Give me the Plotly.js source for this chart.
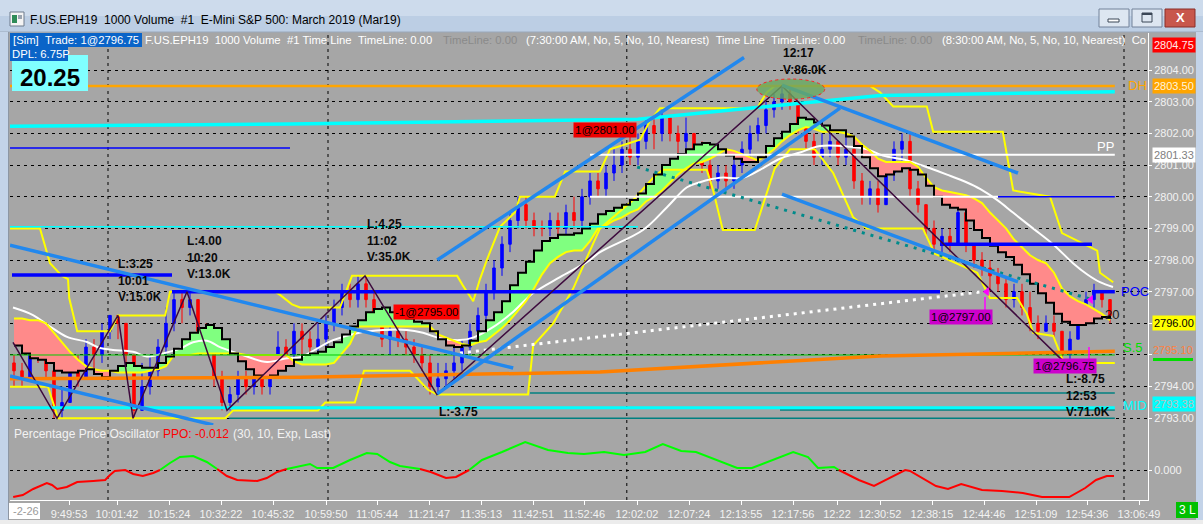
<!DOCTYPE html>
<html>
<head>
<meta charset="utf-8">
<script src="https://cdn.plot.ly/plotly-3.0.1.min.js"></script>
<style>
html,body{margin:0;padding:0;background:#a6a6a6;overflow:hidden;}
#chart{width:1203px;height:524px;}
</style>
</head>
<body>
<div id="chart"></div>
<script>
// ================= DATA =================
// 1000-volume bars, index 0..137
const firstOpen = 2794.75;
const closes = [
2794.5,2794.25,2795.25,2795.0,2794.5,2793.25,2793.5,2794.5,2794.25,2795.25,
2795.0,2795.75,2796.25,2796.0,2795.0,2793.25,2794.0,2794.5,2795.25,2796.0,
2796.75,2796.5,2796.75,2795.75,2795.5,2794.25,2793.5,2793.75,2794.25,2794.0,
2794.25,2794.0,2794.75,2795.25,2795.0,2795.75,2795.5,2795.25,2795.5,2796.0,
2796.5,2797.0,2796.75,2797.25,2796.75,2796.25,2795.5,2795.75,2795.5,2795.25,
2795.0,2794.75,2794.0,2794.25,2794.5,2794.75,2795.25,2795.75,2796.25,2797.0,
2797.75,2798.5,2799.25,2799.75,2799.25,2799.0,2799.0,2799.25,2799.0,2799.5,
2799.25,2800.0,2800.5,2800.25,2800.75,2801.0,2801.5,2801.25,2801.75,2802.25,
2802.0,2802.5,2802.0,2801.75,2802.0,2801.5,2801.0,2800.5,2800.75,2800.5,
2801.0,2801.5,2802.0,2802.25,2802.75,2803.0,2803.25,2803.0,2802.25,2801.75,
2801.25,2801.5,2801.75,2801.25,2801.5,2800.5,2800.0,2800.25,2799.75,2800.75,
2801.5,2801.75,2800.25,2799.75,2799.0,2798.5,2798.75,2798.5,2799.5,2798.5,
2798.0,2797.75,2797.5,2797.25,2796.75,2797.0,2796.5,2796.0,2795.75,2796.0,
2795.75,2795.0,2795.5,2796.25,2796.75,2797.0,2796.75,2796.25];
const highs = [
2795.0,2794.75,2795.5,2795.5,2795.0,2794.5,2794.0,2795.0,2795.0,2795.5,
2795.5,2796.0,2796.25,2796.25,2796.0,2795.0,2794.75,2795.0,2795.5,2796.5,
2797.0,2797.0,2797.0,2796.75,2796.0,2795.5,2794.5,2794.0,2794.5,2794.5,
2794.75,2794.5,2795.0,2795.75,2795.5,2796.0,2796.0,2795.75,2796.0,2796.25,
2796.75,2797.25,2797.25,2797.5,2797.5,2797.0,2796.25,2796.0,2796.0,2795.75,
2795.5,2795.25,2795.0,2794.75,2794.75,2795.25,2795.5,2796.0,2796.5,2797.25,
2798.0,2798.75,2799.5,2800.0,2800.0,2799.5,2799.25,2799.5,2799.5,2799.75,
2800.0,2800.25,2800.75,2800.75,2801.0,2801.5,2801.75,2802.0,2802.0,2802.5,
2802.5,2802.75,2802.5,2802.25,2802.5,2802.0,2801.75,2801.25,2801.0,2801.0,
2801.25,2801.75,2802.25,2802.5,2803.0,2803.25,2803.5,2803.5,2803.0,2802.25,
2802.0,2802.0,2802.0,2801.75,2802.0,2801.5,2800.75,2800.5,2800.5,2801.0,
2801.75,2802.0,2802.0,2800.5,2799.75,2799.25,2799.0,2799.0,2799.75,2799.5,
2798.5,2798.25,2798.0,2797.75,2797.5,2797.25,2797.25,2797.0,2796.25,2796.25,
2796.25,2795.75,2795.75,2796.5,2797.0,2797.25,2797.0,2796.75];
const lows = [
2794.0,2794.0,2794.25,2794.75,2794.25,2793.0,2793.0,2793.5,2794.0,2794.25,
2794.5,2794.75,2795.5,2795.5,2794.75,2793.0,2793.25,2793.75,2794.25,2795.0,
2795.75,2796.0,2796.25,2795.5,2795.0,2794.0,2793.25,2793.25,2793.5,2793.75,
2793.75,2793.75,2793.75,2794.5,2794.5,2794.75,2795.0,2794.75,2795.0,2795.25,
2795.75,2796.25,2796.5,2796.5,2796.5,2796.0,2795.25,2795.0,2795.25,2795.0,
2794.75,2794.5,2793.75,2793.75,2794.0,2794.25,2794.5,2795.0,2795.5,2796.0,
2796.75,2797.5,2798.25,2799.0,2799.0,2798.75,2798.75,2798.75,2798.75,2798.75,
2799.0,2799.0,2799.75,2800.0,2800.0,2800.5,2800.75,2801.0,2801.0,2801.5,
2801.5,2801.75,2801.75,2801.25,2801.5,2801.25,2800.75,2800.25,2800.25,2800.25,
2800.25,2800.75,2801.25,2801.75,2802.0,2802.5,2802.75,2802.75,2802.0,2801.5,
2801.0,2801.0,2801.25,2801.0,2801.0,2800.25,2799.75,2799.75,2799.5,2799.75,
2800.5,2801.0,2800.0,2799.5,2798.75,2798.25,2798.25,2798.25,2798.5,2798.25,
2797.75,2797.5,2797.0,2797.0,2796.5,2796.5,2796.25,2795.75,2795.5,2795.75,
2795.5,2794.75,2794.75,2795.5,2796.0,2796.5,2796.5,2796.0];

// black stepped average (per bar)
const fastMA = [
2795.3,2795.05,2794.9,2794.85,2794.75,2794.5,2794.45,2794.45,2794.5,2794.55,
2794.4,2794.3,2794.5,2794.65,2794.75,2794.65,2794.6,2794.6,2794.75,2794.95,
2795.2,2795.5,2795.7,2795.85,2795.95,2795.85,2795.5,2795.05,2794.8,2794.55,
2794.35,2794.3,2794.35,2794.5,2794.65,2794.85,2795.0,2795.05,2795.1,2795.25,
2795.4,2795.65,2795.9,2796.1,2796.35,2796.45,2796.5,2796.35,2796.25,2796.15,
2796.05,2796.0,2795.75,2795.5,2795.3,2795.25,2795.3,2795.45,2795.75,2796.1,
2796.35,2796.7,2797.2,2797.6,2797.95,2798.3,2798.6,2798.7,2798.8,2798.8,
2798.85,2799.0,2799.15,2799.45,2799.55,2799.65,2799.75,2799.9,2800.1,2800.4,
2800.7,2801.0,2801.2,2801.35,2801.5,2801.65,2801.7,2801.65,2801.5,2801.3,
2801.2,2801.1,2801.1,2801.25,2801.6,2801.85,2802.05,2802.3,2802.5,2802.45,
2802.35,2802.25,2802.1,2802.1,2801.9,2801.6,2801.25,2800.9,2800.65,2800.7,
2800.8,2800.9,2800.85,2800.7,2800.35,2800.0,2799.75,2799.65,2799.6,2799.25,
2798.95,2798.7,2798.45,2798.25,2798.1,2797.85,2797.55,2797.25,2796.95,2796.65,
2796.3,2796.05,2795.95,2795.95,2796.0,2796.15,2796.2,2796.25];
// inner yellow line bounding the green / pink cloud (per bar)
const slowBand = [
2796.15,2796.15,2796.1,2796.1,2796.0,2795.7,2795.4,2795.1,2794.85,2794.65,
2794.55,2794.5,2794.5,2794.45,2794.45,2794.45,2794.45,2794.5,2794.55,2794.65,
2795.0,2795.0,2795.0,2795.05,2795.05,2795.05,2795.05,2795.05,2795.05,2795.0,
2795.0,2795.0,2795.0,2795.0,2795.0,2794.8,2794.7,2794.7,2794.7,2794.7,
2794.75,2795.05,2795.35,2795.9,2795.9,2795.9,2795.9,2795.9,2795.9,2795.9,
2795.9,2795.9,2795.9,2795.65,2795.55,2795.45,2795.35,2795.3,2795.4,2795.45,
2795.65,2795.85,2796.1,2796.4,2796.7,2797.1,2797.55,2797.9,2798.1,2798.25,
2798.3,2798.3,2798.6,2799.0,2799.1,2799.25,2799.35,2799.5,2799.6,2799.85,
2800.0,2800.2,2800.45,2800.7,2800.9,2801.05,2801.1,2801.2,2801.35,2801.5,
2801.45,2801.35,2801.25,2801.15,2801.3,2801.5,2801.75,2801.95,2802.1,2802.2,
2802.15,2802.05,2802.05,2802.05,2802.0,2801.9,2801.65,2801.45,2801.2,2801.1,
2801.1,2801.1,2801.1,2800.95,2800.6,2800.3,2800.2,2800.15,2800.1,2800.05,
2799.95,2799.8,2799.5,2799.25,2799.0,2798.65,2798.4,2798.15,2798.0,2797.9,
2797.6,2797.1,2796.85,2796.7,2796.6,2796.45,2796.3,2796.1];

// white smooth average
const whiteX = [-0.125,2.375,4.5,6.625,9.125,10.75,12.375,14.875,16.625,18.625,20.75,22.375,24.125,25.75,27.375,29.125,31.625,34.125,35.75,39.875,42.875,46.125,49.125,51.125,53.25,55.75,57.375,59.875,62.375,64.875,68.25,71.625,73.25,78.625,81.625,84.125,85.75,88.25,91.125,93.25,95.75,98.25,100.75,104.5,106.625,108.625,111.625,114.5,116.625,119.125,120.75,122.875,124.875,127.375,129.875,132.375,134.125,135.75,137.375];
const whiteY = [2796.5,2796.26,2795.9,2795.57,2795.41,2795.22,2795.16,2795.1,2794.95,2795.05,2795.2,2795.4,2795.45,2795.25,2795.1,2794.95,2794.78,2794.9,2794.93,2795.47,2795.69,2795.79,2795.79,2795.7,2795.53,2795.47,2795.55,2795.88,2796.36,2796.95,2797.46,2797.94,2798.25,2798.95,2799.67,2800.3,2800.46,2800.6,2800.6,2800.85,2801.2,2801.4,2801.6,2801.58,2801.5,2801.3,2801.15,2800.9,2800.7,2800.45,2800.25,2799.9,2799.5,2799.0,2798.5,2797.9,2797.55,2797.3,2797.15];

// outer yellow price channel
const upperX = [-0.5,3.25,4.5,6,6.75,6.9,7.9,12,13,18.9,19.5,32.6,33.25,34.75,35.75,40.75,42.25,55.4,56.1,57.4,58.25,59.1,60.75,62.6,63.25,67.6,68.9,73.25,74.5,78.25,79.5,80.75,92.9,94.1,95.1,107,108.25,109.9,114.1,114.9,123.6,124.1,124.9,129.5,131,135.4,135.75,137.4];
const upperY = [2799.0,2799.0,2797.9,2797.5,2797.4,2796.8,2795.75,2795.75,2796.25,2796.25,2797.0,2797.0,2796.9,2796.6,2796.5,2796.5,2797.5,2797.5,2797.2,2796.7,2797.4,2798.0,2799.05,2799.5,2800.0,2800.0,2800.8,2800.8,2801.5,2801.8,2802.4,2802.8,2802.8,2803.3,2803.5,2803.5,2803.3,2802.85,2802.85,2802.05,2802.05,2801.3,2800.2,2800.0,2798.85,2798.3,2797.6,2797.3];
const lowerX = [-0.5,4.25,5.5,26.4,27.4,38,38.9,42.6,43.75,49.5,51.75,52.9,64.25,64.9,67.4,69.9,72,73.25,77.4,79.9,81.1,86.6,87.4,88.6,92.6,93.9,95.1,97,100.1,102.4,104.9,106.6,113.6,115.1,120.4,122,125.4,126.6,127.4,129.9,131,131.6,137.6];
const lowerY = [2794.0,2794.0,2793.0,2793.0,2793.25,2793.25,2793.5,2793.5,2794.5,2794.5,2793.9,2793.75,2793.75,2795.3,2796.0,2797.1,2798.3,2799.0,2799.9,2800.6,2800.85,2800.85,2800.2,2798.95,2798.95,2800.0,2800.9,2801.5,2801.5,2800.75,2799.35,2799.0,2799.0,2798.2,2797.6,2796.8,2796.8,2796.3,2795.7,2795.6,2794.9,2794.75,2794.75];

// Percentage Price Oscillator
const ppoX = [-0.1,1.1,2.4,4.1,4.75,5.4,6.6,7.9,9.9,11.4,12,12.6,13.9,14.9,16.1,17.4,18.25,19.5,20.75,22.4,24.1,25.4,26.6,27.9,30.4,31.6,32.9,34.1,35.75,37,37.9,39.9,42,44.1,45.4,47,48.25,50.75,52.1,54,55.25,56.9,58.5,61,63.9,66.75,69.25,71.25,73.75,76.25,78.9,81.1,83.4,85.25,87.75,90.4,92.25,94.75,97.4,99.25,100.5,102.5,103.1,105.6,107.5,109.5,111.4,112,115.25,116.75,118.4,121,123.5,126.1,128.5,131.9,133.9,135.25,136.6,137.5];
const ppoV = [-0.054,-0.050,-0.038,-0.026,-0.030,-0.038,-0.034,-0.024,-0.022,-0.020,-0.010,-0.002,0.000,-0.008,-0.012,-0.006,0.000,0.014,0.026,0.028,0.016,0.002,-0.012,-0.020,-0.022,-0.016,-0.004,0.002,0.008,0.012,0.004,0.004,0.020,0.034,0.032,0.016,0.008,0.002,-0.004,-0.016,-0.014,0.000,0.020,0.036,0.056,0.040,0.034,0.032,0.036,0.030,0.036,0.052,0.038,0.036,0.020,0.004,0.004,0.020,0.036,0.026,0.004,0.006,0.000,-0.020,-0.032,-0.016,0.000,-0.002,-0.032,-0.038,-0.028,-0.040,-0.042,-0.046,-0.054,-0.054,-0.036,-0.020,-0.012,-0.012];

// time axis
const tickPos = [6.875,12.875,19.375,25.875,32.375,39,45.375,51.875,58.375,64.875,71.25,77.875,84.375,90.875,97.375,102.875,108.25,114.75,121.25,127.75,134.125,140.625];
const tickText = ['9:49:53','10:01:42','10:15:24','10:32:22','10:45:32','10:59:50','11:05:44','11:21:47','11:35:13','11:42:51','11:52:46','12:02:02','12:07:24','12:13:55','12:17:56','12:22','12:30:52','12:38:15','12:44:46','12:51:09','12:54:36','13:06:49'];
const hourMarks = [11.75,39.25,76.6,138.75];           // 10:00, 11:00, 12:00, 13:00
const priceTicks = [2793,2794,2795,2796,2797,2798,2799,2800,2801,2802,2803,2804];
const hiddenTicks = [2795];                              // covered by the 2795.10 marker

// swing zig-zag
const zigX = [-0.125,5.375,13,14.875,21.625,26.625,43.875,52.875,96,131.375];
const zigY = [2795.4,2793.0,2796.25,2793.0,2797.0,2793.25,2797.5,2793.75,2803.5,2794.75];

// drawn trend lines (bar, price) -> (bar, price)
const trendX0 = [-0.5,-0.5,52.9,52.9,96,96];
const trendY0 = [2798.47,2794.34,2793.77,2798.0,2803.53,2800.08];
const trendX1 = [62.4,24.9,103.25,91.25,125.5,125.5];
const trendY1 = [2794.59,2792.79,2802.8,2804.4,2800.75,2797.31];

// horizontal levels
const levelName  = ['DH','blueThin','PP','white2800','blue2800','cyanThin','blueHi','POC','POC2','blue2798','green','teal1','teal2','teal3','MID'];
const levelPrice = [2803.5,2801.54,2801.33,2800.0,2800.0,2799.05,2797.53,2797.0,2797.0,2798.5,2795.0,2793.8,2793.26,2793.0,2793.33];
const levelFrom  = [-0.5,-0.5,72,72,123,-0.5,-0.25,19.75,134.75,115.75,-0.5,64.5,95.75,26.9,-0.5];
const levelTo    = [137.6,34.5,137.6,123,137.6,78,19.75,115.75,137.6,134.75,137.6,137.6,137.6,137.6,137.6];

// sloped bands
const cyanX = [-0.5,34.5,78,108.25,137.6];
const cyanY = [2802.23,2802.3,2802.45,2803.2,2803.32];
const orangeX = [-0.5,35.75,73.25,108.25,137.6];
const orangeY = [2794.25,2794.3,2794.46,2794.97,2795.12];

// dotted lines
const whiteDotX = [55.75,121.1], whiteDotY = [2795.06,2797.0];
const tealDotX = [77.9,134.9],  tealDotY = [2800.94,2796.74];

// trade markers
const tradeTriX = [121.6,134.6], tradeTriY = [2797.0,2796.75];
const peakBar = 97.1, peakPrice = 2803.4;

// ================= BUILD =================
const F = '"Liberation Sans", Arial, sans-serif';
const W=1203,H=524,ML=10,MR=55,MT=33,MB=24;
const PW=W-ML-MR, PH=H-MT-MB;
const px = x => (x-ML)/PW, py = y => (H-MB-y)/PH;
const paneSplit = (H-MB-425)/PH;

const idx = closes.map((_,i)=>i);
const opens = closes.map((c,i)=> i ? closes[i-1] : firstOpen);
const hi = highs.map((h,i)=>Math.max(h,opens[i],closes[i]));
const lo = lows.map((l,i)=>Math.min(l,opens[i],closes[i]));

const traces = [];
// cloud fills
(function(){
  const n=fastMA.length;
  const sg=k=> fastMA[k]>=slowBand[k]?1:-1;
  let i=0;
  while(i<n){
    const s=sg(i); let j=i;
    while(j+1<n && sg(j+1)===s) j++;
    const e=Math.min(j+1,n-1);
    const xs=[],ys=[];
    for(let k=i;k<=e;k++){ xs.push(k); ys.push(fastMA[k]); if(k<e){ xs.push(k+1); ys.push(fastMA[k]); } }
    for(let k=e;k>=i;k--){ xs.push(k); ys.push(slowBand[k]); }
    if(e>i) traces.push({type:'scatter',mode:'lines',x:xs,y:ys,fill:'toself',fillcolor:s>0?'#80ff80':'#ff8a8a',line:{width:0},hoverinfo:'skip'});
    i=j+1;
  }
})();
// outer channel
traces.push({type:'scatter',mode:'lines',x:upperX,y:upperY,line:{color:'#ffff00',width:2}});
traces.push({type:'scatter',mode:'lines',x:lowerX,y:lowerY,line:{color:'#ffff00',width:2}});
// candles
traces.push({type:'candlestick',x:idx,open:opens,high:hi,low:lo,close:closes,
  increasing:{line:{color:'#0000ff',width:1},fillcolor:'#0000ff'},
  decreasing:{line:{color:'#ff0000',width:1},fillcolor:'#ff0000'},
  whiskerwidth:0,hoverinfo:'skip'});
// averages
traces.push({type:'scatter',mode:'lines',x:whiteX,y:whiteY,line:{color:'#ffffff',width:2,shape:'spline'}});
traces.push({type:'scatter',mode:'lines',x:idx,y:slowBand,line:{color:'#ffff00',width:2}});
traces.push({type:'scatter',mode:'lines',x:idx,y:fastMA,line:{color:'#000000',width:2,shape:'hv'}});
// levels
const levelStyle = {
  DH:['#ffa500',2.5], blueThin:['#0000ff',1.5], PP:['#ffffff',2], white2800:['#ffffff',2], blue2800:['#0000ff',1.5],
  cyanThin:['#00ffff',1.5], blueHi:['#0000ff',3.5], POC:['#0000ff',3.5], POC2:['#0000ff',3.5], blue2798:['#0000ff',3.5],
  green:['#00cc00',1], teal1:['#008080',1.5], teal2:['#008080',1.5], teal3:['#008080',1.5], MID:['#00ffff',3]
};
levelName.forEach((nm,k)=>{
  traces.push({type:'scatter',mode:'lines',x:[levelFrom[k],levelTo[k]],y:[levelPrice[k],levelPrice[k]],
    line:{color:levelStyle[nm][0],width:levelStyle[nm][1]}});
});
traces.push({type:'scatter',mode:'lines',x:cyanX,y:cyanY,line:{color:'#00ffff',width:3.5}});
traces.push({type:'scatter',mode:'lines',x:orangeX,y:orangeY,line:{color:'#ff8000',width:3.5}});
// dotted
traces.push({type:'scatter',mode:'lines',x:whiteDotX,y:whiteDotY,line:{color:'#ffffff',width:3,dash:'3px,5px'}});
traces.push({type:'scatter',mode:'lines',x:tealDotX,y:tealDotY,line:{color:'#008b8b',width:3,dash:'3px,6px'}});
// zigzag
traces.push({type:'scatter',mode:'lines',x:zigX,y:zigY,line:{color:'#3d0a3d',width:1.5}});
// trend lines
trendX0.forEach((x0,k)=>{
  traces.push({type:'scatter',mode:'lines',x:[x0,trendX1[k]],y:[trendY0[k],trendY1[k]],line:{color:'#2288ee',width:3.5}});
});
// trade triangles
traces.push({type:'scatter',mode:'markers',x:tradeTriX,y:tradeTriY,marker:{symbol:'triangle-left',size:8,color:'#ff00ff'}});
// PPO
function ppoSeg(pos){
  const xs=[],ys=[];
  for(let k=0;k<ppoX.length-1;k++){
    const m=(ppoV[k]+ppoV[k+1])/2;
    if((m>=0)===pos){
      if(!xs.length || xs[xs.length-1]!==ppoX[k]){ if(xs.length){xs.push(null);ys.push(null);} xs.push(ppoX[k]); ys.push(ppoV[k]); }
      xs.push(ppoX[k+1]); ys.push(ppoV[k+1]);
    }
  }
  return {xs,ys};
}
const pg=ppoSeg(true), pr=ppoSeg(false);
traces.push({type:'scatter',mode:'lines',x:pg.xs,y:pg.ys,yaxis:'y2',line:{color:'#00ff00',width:2},connectgaps:false});
traces.push({type:'scatter',mode:'lines',x:pr.xs,y:pr.ys,yaxis:'y2',line:{color:'#ff0000',width:2},connectgaps:false});
traces.forEach(t=>{ if(!t.hoverinfo) t.hoverinfo='skip'; t.showlegend=false; });

// ---------- annotations & decoration ----------
const A=[];
function txt(x,y,text,o){ o=o||{};
  A.push({xref:'paper',yref:'paper',x:px(x),y:py(y),text:text,showarrow:false,
    xanchor:o.xa||'left',yanchor:'middle',align:'left',
    font:{family:F,size:o.size||12,color:o.color||'#ffffff'},
    bgcolor:o.bg||'rgba(0,0,0,0)',borderpad:o.pad||0});
}
const S=[];
function rect(x0,y0,x1,y1,fill,lc){
  S.push({type:'rect',xref:'paper',yref:'paper',x0:px(x0),x1:px(x1),y0:py(y1),y1:py(y0),
    fillcolor:fill,line:{width:lc?1:0,color:lc||fill},layer:'above'});
}
function seg(x0,y0,x1,y1,color,w){
  S.push({type:'line',xref:'paper',yref:'paper',x0:px(x0),x1:px(x1),y0:py(y0),y1:py(y1),line:{color:color,width:w},layer:'above'});
}
const HS = 11.3; // header font size
// window chrome
rect(0,0,W,16,'#cddbec'); rect(0,16,W,32,'#bccee4');
seg(0,32,W,32,'#9aa8ba',1);
rect(0,32,8,H,'#c3d3e8'); seg(8.5,32,8.5,H,'#8d96a3',1);
rect(1196,32,W,H,'#c3d3e8');
rect(0,520,W,H,'#ececec');
rect(10,12,24,26,'#f4f4f4','#6c7a8c'); rect(12,15,17,23,'#2e8b57'); rect(18,15,22,19,'#9aa4b0');
txt(29,20,'F.US.EPH19\u00a0\u00a01000 Volume\u00a0\u00a0#1\u00a0\u00a0E-Mini S&amp;P 500: March 2019 (Mar19)',{color:'#000000'});
rect(1099,9,1129,27,'#dde6f1','#72829a'); rect(1108,19,1119,22,'#ffffff','#3a4656');
rect(1132,9,1162,27,'#dde6f1','#72829a'); rect(1142,13,1152,22,'rgba(0,0,0,0)','#3a4656'); rect(1142,13,1152,15,'#3a4656');
rect(1165,9,1195,27,'#c8574c','#8a2f28');
txt(1180,18,'<b>X</b>',{xa:'center',size:13,color:'#ffffff'});
// header of pane
rect(10,33,142,47,'#0a64c8');
txt(12,40,'[Sim]\u00a0\u00a0Trade: 1@2796.75',{size:HS});
txt(144,40,'F.US.EPH19\u00a0\u00a01000 Volume\u00a0\u00a0#1 Time Line\u00a0\u00a0TimeLine: 0.00',{size:HS});
txt(442,40,'TimeLine: 0.00',{color:'#8a8a8a',size:HS});
txt(525,40,'(7:30:00 AM, No, 5, No, 10, Nearest)\u00a0\u00a0Time Line\u00a0\u00a0TimeLine: 0.00',{size:HS});
txt(857,40,'TimeLine: 0.00',{color:'#8a8a8a',size:HS});
txt(941,40,'(8:30:00 AM, No, 5, No, 10, Nearest)\u00a0\u00a0Co',{size:HS});
rect(12,55,88,91,'#80ffff');
rect(10,47,68,61,'#0a64c8');
txt(11,54,'DPL: 6.75P',{size:HS});
txt(50,77,'<b>20.25</b>',{xa:'center',size:24,color:'#000000'});
// swing labels
const swingText = [['L:3.25','10:01','V:15.0K'],['L:4.00','10:20','V:13.0K'],['L:4.25','11:02','V:35.0K'],['L:-3.75'],['12:17','V:86.0K'],['L:-8.75','12:53','V:71.0K']];
const swingPx = [[117,264],[186,241],[366,224],[438,412],[782,53],[1065,379]];
swingText.forEach((lines,k)=>lines.forEach((t,j)=>txt(swingPx[k][0],swingPx[k][1]+j*16.5,'<b>'+t+'</b>',{color:'#0a0a0a'})));
// trade boxes
txt(393,312,'-1@2795.00',{bg:'#ff0000',color:'#000000',size:11.5,pad:1});
txt(573,130,'1@2801.00',{bg:'#ee0000',color:'#000000',size:11.5,pad:1});
txt(929,317,'1@2797.00',{bg:'#cc00cc',color:'#000000',size:11.5,pad:1});
txt(1033,366,'1@2796.75',{bg:'#cc00cc',color:'#000000',size:11.5,pad:1});
seg(985,297,985,311,'#ff00ff',1.5); seg(1089,347,1089,360,'#ff00ff',1.5);
// level names
txt(1127,86,'DH',{color:'#ffa500',size:13});
txt(1096,146,'PP',{color:'#ffffff',size:13});
txt(1120,291,'POC',{color:'#0000ff',size:13});
txt(1104,314,'20',{color:'#1a1a1a',size:13});
txt(1122,347,'S.5',{color:'#00e000',size:13});
txt(1122,405,'MID',{color:'#00ffff',size:13});
// axis price boxes
txt(1152,45,'2804.75',{bg:'#ff0000',color:'#ffe8e8',size:11,pad:1});
txt(1152,86,'2803.50',{bg:'#ffa500',color:'#fff4dc',size:11,pad:1});
txt(1152,155,'2801.33',{bg:'#ffffff',color:'#808080',size:11,pad:1});
txt(1152,323,'2796.00',{bg:'#ffff00',color:'#000000',size:11,pad:1});
txt(1152,350,'2795.10',{color:'#ff8040',size:11});
rect(1153,358,1193,361,'#00dd00');
txt(1152,404,'2793.38',{bg:'#00ffff',color:'#bdbdbd',size:11,pad:1});
// PPO header
txt(13,434,'Percentage Price Oscillator',{color:'#f2f2f2'});
txt(162,434,'PPO: -0.012',{color:'#ff0000'});
txt(232,434,'(30, 10, Exp, Last)',{color:'#f2f2f2'});
// bottom
rect(9,503,40,519,'#ffffff');
txt(12,511,'-2-26',{color:'#9a9a9a',size:11});
rect(1176,502,1198,518,'#00c000');
txt(1187,510,'3 L',{xa:'center',color:'#ffffff'});

// hour separators and peak ellipse
hourMarks.forEach(h=>S.push({type:'line',xref:'x',yref:'paper',x0:h,x1:h,y0:0,y1:1,line:{color:'#000000',width:1,dash:'3px,4px'},layer:'below'}));
S.push({type:'circle',xref:'x',yref:'y',x0:peakBar-4.25,x1:peakBar+4.25,y0:peakPrice-0.32,y1:peakPrice+0.32,
  fillcolor:'rgba(104,170,96,0.8)',line:{color:'#ff2020',width:1,dash:'dot'},layer:'above'});

const axFont = {family:F,size:11,color:'#f2f2f2'};
const layout = {
  width:W,height:H,margin:{l:ML,r:MR,t:MT,b:MB},
  paper_bgcolor:'#a6a6a6',plot_bgcolor:'#a6a6a6',
  showlegend:false,hovermode:false,dragmode:false,boxgap:0.55,
  xaxis:{range:[-0.5,141.75],anchor:'y2',tickmode:'array',tickvals:tickPos,ticktext:tickText,tickfont:axFont,
    ticks:'outside',ticklen:4,tickcolor:'#ffffff',showline:true,linecolor:'#ffffff',linewidth:1,
    showgrid:false,zeroline:false,rangeslider:{visible:false},fixedrange:true},
  yaxis:{domain:[paneSplit,1],range:[2792.788,2805.174],side:'right',anchor:'x',tickmode:'array',
    tickvals:priceTicks,ticktext:priceTicks.map(v=>hiddenTicks.includes(v)?'':v.toFixed(2)),tickfont:axFont,ticks:'outside',ticklen:3,
    tickcolor:'#ffffff',showline:true,linecolor:'#ffffff',showgrid:true,gridcolor:'#000000',griddash:'3px,4px',
    gridwidth:1,zeroline:false,fixedrange:true},
  yaxis2:{domain:[0,paneSplit],range:[-0.06,0.09],side:'right',anchor:'x',tickmode:'array',tickvals:[0],
    ticktext:['0.000'],tickfont:axFont,ticks:'outside',ticklen:3,tickcolor:'#ffffff',showline:true,
    linecolor:'#ffffff',showgrid:true,gridcolor:'#000000',griddash:'3px,4px',gridwidth:1,zeroline:false,fixedrange:true},
  annotations:A, shapes:S
};
Plotly.newPlot('chart',traces,layout,{staticPlot:true,displayModeBar:false});
</script>
</body>
</html>
